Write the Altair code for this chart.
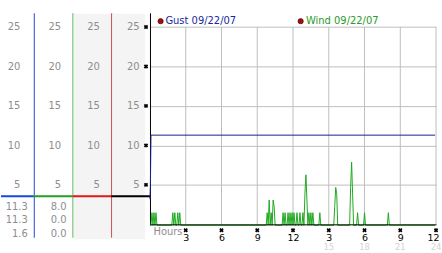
import altair as alt
import pandas as pd

FONT = "DejaVu Sans"
GRID = "#bdbdbd"
LABEL = "#8e8e8e"
SHADE = "#f4f4f4"

# ---------------- data ----------------
y_ticks = [5, 10, 15, 20, 25]
hour_ticks = [3, 6, 9, 12, 15, 18, 21, 24]
hour_labels = ["3", "6", "9", "12", "3", "6", "9", "12"]
late_ticks = [15, 18, 21, 24]
late_labels = ["15", "18", "21", "24"]
series_names = ["Gust 09/22/07", "Wind 09/22/07"]
gust_stats = [11.3, 11.3, 1.6]
wind_stats = [8.0, 0.0, 0.0]

gust_minutes = [0, 2, 5, 1435]
gust_mph = [3.2, 4.8, 11.3, 11.3]

wind_minutes = [0,
                5, 10, 15, 20, 25, 30, 35,
                110, 115, 120, 125, 130, 135, 140, 145, 150, 155,
                585, 590, 595, 600, 605, 610, 615, 620, 625, 630,
                665, 670, 675, 680, 685, 690, 695, 700, 705, 710, 715, 720,
                725, 730, 735, 740, 745, 750, 755, 760, 765, 770, 775,
                780, 785, 790, 795, 800, 805, 810, 815, 820, 825,
                850, 855, 860,
                925, 930, 935, 940, 945,
                1005, 1010, 1015, 1020, 1025,
                1040, 1045, 1050,
                1075, 1080, 1085,
                1195, 1200, 1205,
                1435]
wind_mph = [0,
            0, 1.6, 0, 1.6, 0, 1.6, 0,
            0, 1.6, 0, 1.6, 0, 0, 1.6, 0, 1.6, 0,
            0, 1.6, 0, 3.2, 0, 1.6, 0, 3.2, 2.4, 0,
            0, 1.6, 0, 1.6, 0, 0, 1.6, 0, 1.6, 0, 1.6, 0,
            1.6, 0, 0, 1.6, 0, 0, 1.6, 0, 0, 1.6, 0,
            4.0, 6.4, 3.2, 0, 1.6, 0, 1.6, 0, 1.6, 0,
            0, 1.6, 0,
            0, 2.4, 4.8, 4.0, 0,
            0, 4.8, 8.0, 4.0, 0,
            0, 1.6, 0,
            0, 1.6, 0,
            0, 1.6, 0,
            0]

# ---------------- main plot ----------------
TOP = 26.8
PX = 7.95
MAIN_H = 213
LEFT_H = 226

X = alt.Scale(domain=[0, 1440], nice=False, zero=False)
Y = alt.Scale(domain=[0, TOP], nice=False, zero=False)

tick_min = [h * 60 for h in hour_ticks]
label_expr = ("[" + ",".join(f"'{l}'" for l in hour_labels) + "][indexof(["
              + ",".join(str(m) for m in tick_min) + "], datum.value)]")

x_axis = alt.Axis(values=tick_min, labelExpr=label_expr, grid=False, ticks=False,
                  domainColor="black", labelColor="black", labelFont=FONT,
                  labelFontSize=9.5, labelPadding=8, labelFlush=True,
                  labelFlushOffset=3, title="Hours", titleX=3, titleY=7,
                  titleAlign="left", titleBaseline="middle", titleAnchor="start",
                  titleColor=LABEL, titleFont=FONT, titleFontSize=10,
                  titleFontWeight="normal", zindex=1)
y_axis = alt.Axis(values=y_ticks, labels=False, ticks=False, grid=True,
                  gridColor=GRID, domainColor="black", title=None)

vgrid = alt.Chart(pd.DataFrame({"m": tick_min})).mark_rule(color=GRID).encode(
    x=alt.X("m:Q", scale=X, axis=x_axis),
    y=alt.Y(datum=0, scale=Y, axis=y_axis),
    y2=alt.datum(25),
)

wind = alt.Chart(pd.DataFrame({"minute": wind_minutes, "mph": wind_mph})).mark_line(
    color="#1fa81f", strokeWidth=1, yOffset=1
).encode(x="minute:Q", y="mph:Q")

gust = alt.Chart(pd.DataFrame({"minute": gust_minutes, "mph": gust_mph})).mark_line(
    color="#1c1c8c", strokeWidth=1
).encode(x="minute:Q", y="mph:Q")

yglyph = alt.Chart(pd.DataFrame({"v": y_ticks})).mark_point(
    shape="cross", angle=45, filled=True, size=20, color="black", opacity=1, xOffset=-4
).encode(x=alt.datum(0), y="v:Q")

xglyph = alt.Chart(pd.DataFrame({"m": tick_min})).mark_point(
    shape="cross", angle=45, filled=True, size=20, color="black", opacity=1, yOffset=6
).encode(x="m:Q", y=alt.datum(0))

late = alt.Chart(pd.DataFrame({"m": [h * 60 for h in late_ticks], "t": late_labels})).mark_text(
    color="#d4d4d4", font=FONT, fontSize=8.5, baseline="bottom", yOffset=28
).encode(x="m:Q", y=alt.datum(0), text="t:N")

leg_df = pd.DataFrame({"name": series_names, "i": [0, 1]})
legend_layers = []
for i, (dx, tx, col) in enumerate([(10.7, 15.5, "#1a2a9a"), (151.7, 157, "#2a9a2a")]):
    base = alt.Chart(leg_df).transform_filter(alt.datum.i == i)
    legend_layers.append(base.mark_circle(size=28, color="#a80c0c", stroke="#3a0000",
                                          strokeWidth=0.6, opacity=1).encode(
        x=alt.value(dx), y=alt.value(8.5)))
    legend_layers.append(base.mark_text(align="left", baseline="middle", font=FONT,
                                        fontSize=10, color=col).encode(
        x=alt.value(tx), y=alt.value(8.5), text="name:N"))

main = alt.layer(vgrid, wind, gust, yglyph, xglyph, late, *legend_layers).properties(
    width=288, height=MAIN_H
)

# ---------------- left columns ----------------
LY = alt.Scale(domain=[TOP - LEFT_H / PX, TOP], nice=False, zero=False)


def column(width, line_color, seg_color, pad, stats=None, show_domain=True,
           shade_width=None):
    axis = alt.Axis(orient="right", values=y_ticks, ticks=False, grid=False,
                    domain=show_domain, domainColor=line_color, labelAlign="right",
                    labelPadding=-pad, labelColor=LABEL, labelFont=FONT,
                    labelFontSize=10, title=None, zindex=1)
    layers = []
    if shade_width is not None:
        layers.append(alt.Chart(pd.DataFrame({"k": [0]})).mark_rect(color=SHADE).encode(
            x=alt.value(1), x2=alt.value(shade_width),
            y=alt.value(1), y2=alt.value(LEFT_H + 2)))
    seg = alt.Chart(pd.DataFrame({"k": [0]})).mark_rule(color=seg_color, strokeWidth=2).encode(
        y=alt.Y(datum=3.57, scale=LY, axis=axis),
        x=alt.value(0),
        x2=alt.value(width),
    )
    layers.append(seg)
    if stats is not None:
        txt = "\n".join(f"{v:.1f}" for v in stats)
        layers.append(alt.Chart(pd.DataFrame({"t": [txt]})).mark_text(
            align="right", baseline="top", lineBreak="\n", lineHeight=13.5,
            font=FONT, fontSize=10, color=LABEL
        ).encode(x=alt.value(width - 6), y=alt.datum(2.82), text="t:N"))
    return alt.layer(*layers).properties(
        width=width, height=LEFT_H,
        view=alt.ViewBackground(strokeWidth=0),
    )


p1 = column(33, "#2446d0", "#1848d8", 14, gust_stats)
p2 = column(39, "#2fa02f", "#22a022", 12, wind_stats)
p3 = column(39, "#c02424", "#e01818", 12, shade_width=39)
p4 = column(39, "black", "black", 11, show_domain=False, shade_width=34)

chart = alt.hconcat(p1, p2, p3, p4, main, spacing=0, bounds="flush").properties(
    padding={"left": 0, "top": 12, "right": 0, "bottom": 0}
).configure_view(strokeWidth=0)

chart.save("out.html", embed_options={"renderer": "svg", "actions": False})
